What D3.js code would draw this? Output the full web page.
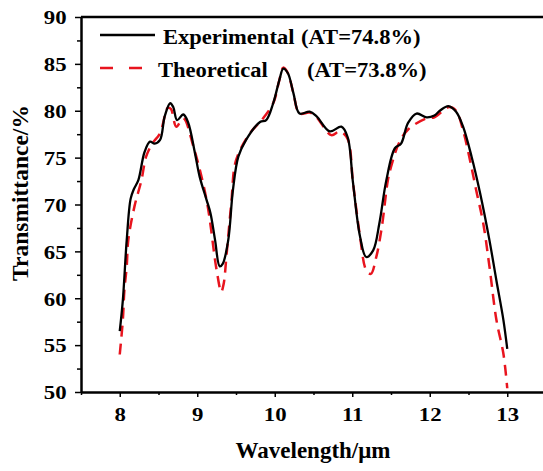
<!DOCTYPE html>
<html>
<head>
<meta charset="utf-8">
<script src="https://cdn.jsdelivr.net/npm/d3@7"></script>
<style>
  body { margin: 0; background: #fff; }
  text { font-family: "Liberation Serif", "Times New Roman", serif; font-weight: bold; fill: #000; }
</style>
</head>
<body>
<script>
// wavelength (um) and transmittance (%)
var expX = [8.0, 8.04, 8.09, 8.14, 8.18, 8.24, 8.32, 8.39, 8.45, 8.52, 8.58, 8.65, 8.69, 8.74, 8.82, 8.88, 8.97, 9.03, 9.12, 9.17, 9.23, 9.29, 9.33, 9.40, 9.46, 9.53, 9.63, 9.81, 9.89, 9.98, 10.06, 10.11, 10.17, 10.24, 10.32, 10.45, 10.54, 10.71, 10.86, 10.94, 11.01, 11.10, 11.18, 11.27, 11.35, 11.44, 11.55, 11.63, 11.72, 11.83, 11.96, 12.06, 12.13, 12.24, 12.34, 12.43, 12.54, 12.65, 12.77, 12.86, 12.95, 13.0];
var expY = [56.5, 59.8, 66.2, 70.6, 71.6, 72.6, 75.6, 76.7, 76.5, 76.9, 79.4, 80.8, 80.4, 79.0, 79.6, 78.8, 75.5, 73.0, 70.5, 69.1, 66.2, 63.4, 63.7, 66.2, 71.5, 75.1, 76.9, 78.8, 79.0, 80.8, 83.3, 84.5, 84.0, 81.9, 79.7, 79.9, 79.4, 77.8, 78.3, 77.2, 72.3, 66.6, 64.4, 65.1, 68.0, 72.6, 76.0, 76.5, 78.7, 79.7, 79.3, 79.5, 80.0, 80.5, 79.9, 78.3, 75.1, 71.2, 66.2, 61.9, 57.7, 54.6];

var theoX = [8.0, 8.04, 8.06, 8.09, 8.11, 8.19, 8.28, 8.34, 8.42, 8.52, 8.62, 8.66, 8.73, 8.82, 8.95, 9.12, 9.25, 9.31, 9.34, 9.38, 9.44, 9.50, 9.68, 9.83, 9.98, 10.06, 10.11, 10.17, 10.24, 10.32, 10.45, 10.54, 10.73, 10.84, 10.94, 11.01, 11.10, 11.18, 11.24, 11.31, 11.38, 11.46, 11.5, 11.6, 11.72, 11.96, 12.06, 12.25, 12.34, 12.43, 12.52, 12.60, 12.69, 12.77, 12.86, 12.95, 13.0];
var theoY = [54.0, 57.7, 60.9, 63.4, 66.2, 69.8, 72.6, 75.1, 76.5, 77.6, 80.3, 80.2, 78.3, 79.2, 76.2, 70.5, 63.0, 60.7, 61.5, 64.8, 70.2, 74.7, 77.6, 79.0, 80.8, 83.3, 84.6, 84.0, 81.9, 79.7, 79.8, 79.3, 77.4, 77.8, 77.0, 72.3, 66.6, 63.0, 62.6, 64.4, 67.5, 72.6, 74.0, 76.5, 78.0, 79.2, 79.3, 80.4, 80.0, 77.9, 74.7, 71.5, 68.0, 63.4, 57.7, 54.1, 50.4];

var xTicks = [8, 9, 10, 11, 12, 13];
var yTicks = [50, 55, 60, 65, 70, 75, 80, 85, 90];
var legendNames = ["Experimental", "Theoretical"];
var legendAT = ["(AT=74.8%)", "(AT=73.8%)"];

var width = 543,
    height = 471,
    stretch = 1.2; // tick text in the figure is a bit wider than tall

var svg = d3.select("body")
    .append("svg")
    .attr("width", width)
    .attr("height", height);

var x = d3.scaleLinear().domain([7.5, 13.5]).range([81, 546]);
var y = d3.scaleLinear().domain([50, 90]).range([392, 17]);

//minor ticks
var xMinor = d3.range(7.5, 13.51, 0.5).filter(function(v){ return v % 1 !== 0; });
var yMinor = d3.range(52.5, 90, 5);

svg.append("g")
    .attr("transform", "translate(0,392)")
    .call(d3.axisBottom(x).tickValues(xMinor).tickSize(3).tickFormat(""))
    .call(function(g){ g.select(".domain").remove(); })
    .selectAll("line").attr("stroke-width", 1.5);

svg.append("g")
    .attr("transform", "translate(81,0)")
    .call(d3.axisLeft(y).tickValues(yMinor).tickSize(4).tickFormat(""))
    .call(function(g){ g.select(".domain").remove(); })
    .selectAll("line").attr("stroke-width", 1.5);

//major axes
var xAxis = svg.append("g")
    .attr("transform", "translate(0,392)")
    .call(d3.axisBottom(x).tickValues(xTicks).tickFormat(d3.format("d"))
        .tickSize(5).tickPadding(11).tickSizeOuter(0));

var yAxis = svg.append("g")
    .attr("transform", "translate(81,0)")
    .call(d3.axisLeft(y).tickValues(yTicks).tickSize(6).tickPadding(6).tickSizeOuter(0));

[xAxis, yAxis].forEach(function(g){
    g.select(".domain").attr("stroke-width", 2.5);
    g.selectAll(".tick line").attr("stroke-width", 1.5);
    g.selectAll(".tick text")
        .style("font-size", "19px")
        .style("font-family", "'Liberation Serif', serif")
        .style("font-weight", "bold")
        .attr("transform", "scale(" + stretch + ",1)");
});
yAxis.selectAll(".tick text").attr("dy", "0.36em");

//top frame line
svg.append("line")
    .attr("x1", 81).attr("x2", width)
    .attr("y1", 17).attr("y2", 17)
    .attr("stroke", "#000")
    .attr("stroke-width", 2.5);

var line = d3.line()
    .x(function(d){ return x(d[0]); })
    .y(function(d){ return y(d[1]); })
    .curve(d3.curveCatmullRom.alpha(0.5));

var expData = expX.map(function(v, i){ return [v, expY[i]]; });
var theoData = theoX.map(function(v, i){ return [v, theoY[i]]; });

svg.append("path")
    .datum(theoData)
    .attr("fill", "none")
    .attr("stroke", "#e8141e")
    .attr("stroke-width", 2.5)
    .attr("stroke-dasharray", "11,7")
    .attr("d", line);

svg.append("path")
    .datum(expData)
    .attr("fill", "none")
    .attr("stroke", "#000")
    .attr("stroke-width", 2.3)
    .attr("d", line);

//legend
var legend = svg.append("g");
var rows = [{y: 35, color: "#000", dash: null, x2: 155, tx: 163, atx: 301},
            {y: 68, color: "#e8141e", dash: "13,16", x2: 142, tx: 158, atx: 307}];

rows.forEach(function(r, i){
    legend.append("line")
        .attr("x1", 100).attr("x2", r.x2)
        .attr("y1", r.y).attr("y2", r.y)
        .attr("stroke", r.color)
        .attr("stroke-width", 2.5)
        .attr("stroke-dasharray", r.dash);
    legend.append("text")
        .attr("transform", "translate(" + r.tx + "," + (r.y + 9) + ") scale(1.1,1)")
        .style("font-size", "20.5px")
        .text(legendNames[i]);
    legend.append("text")
        .attr("transform", "translate(" + r.atx + "," + (r.y + 9) + ") scale(1.1,1)")
        .style("font-size", "20.5px")
        .text(legendAT[i]);
});

//axis titles
svg.append("text")
    .attr("transform", "translate(313,458)")
    .attr("text-anchor", "middle")
    .style("font-size", "23px")
    .text("Wavelength/μm");

svg.append("text")
    .attr("transform", "translate(28,193) rotate(-90)")
    .attr("text-anchor", "middle")
    .style("font-size", "23.5px")
    .text("Transmittance/%");
</script>
</body>
</html>
